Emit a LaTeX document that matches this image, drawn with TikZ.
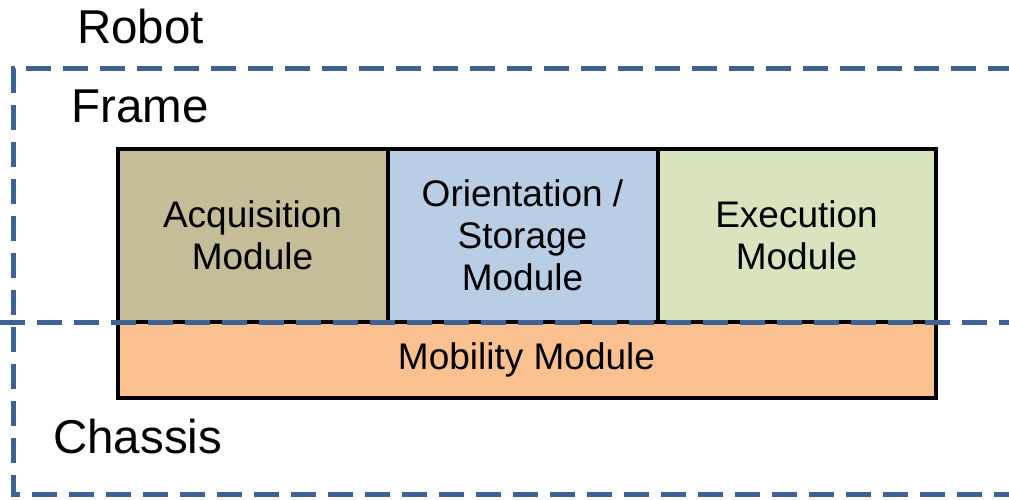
\documentclass[tikz,border=0pt]{standalone}
\usepackage{fontspec}
\setmainfont{Liberation Sans}
\definecolor{acqcol}{RGB}{196,189,151}
\definecolor{oricol}{RGB}{185,205,229}
\definecolor{execol}{RGB}{215,228,189}
\definecolor{mobcol}{RGB}{250,192,144}
\definecolor{dashblue}{RGB}{63,98,148}
\begin{document}
\begin{tikzpicture}[x=1pt,y=-1pt,
  module/.style={draw=black, line width=4pt, inner sep=0pt, align=center,
    font=\fontsize{37}{42}\selectfont},
  biglabel/.style={anchor=base west, inner sep=0pt, font=\fontsize{47.5}{52}\selectfont},
  boundary/.style={draw=dashblue, line width=5pt, dash pattern=on 25pt off 12pt}]
\useasboundingbox (0,0) rectangle (1009,499);
\clip (0,0) rectangle (1009,499);
\fill[white] (0,0) rectangle (1009,499);
% labels
\node[biglabel] (robot) at (77,43) {Robot};
\node[biglabel] (frame) at (71,122) {Frame};
\node[biglabel] (chassis) at (53,453) {Chassis};
% modules
\node[module, fill=acqcol, minimum width=270pt, minimum height=173pt] (acq) at (252.5,235.5) {Acquisition\\Module};
\node[module, fill=oricol, minimum width=270pt, minimum height=173pt] (ori) at (522.5,235.5) {Orientation /\\Storage\\Module};
\node[module, fill=execol, minimum width=278pt, minimum height=173pt] (exe) at (796.5,235.5) {Execution\\Module};
\node[module, fill=mobcol, minimum width=818pt, minimum height=76pt] (mob) at (526.5,360) {Mobility Module};
% boundaries
\coordinate (tr) at (1030,68.5);
\coordinate (tl) at (13.5,68.5);
\coordinate (bl) at (13.5,494);
\coordinate (br) at (1030,494);
\coordinate (ml) at (0,322);
\coordinate (mr) at (1030,322);
\draw[boundary, dash phase=20pt] (tr) -- (tl) -- (bl) -- (br);
\draw[boundary] (ml) -- (mr);
\end{tikzpicture}
\end{document}
